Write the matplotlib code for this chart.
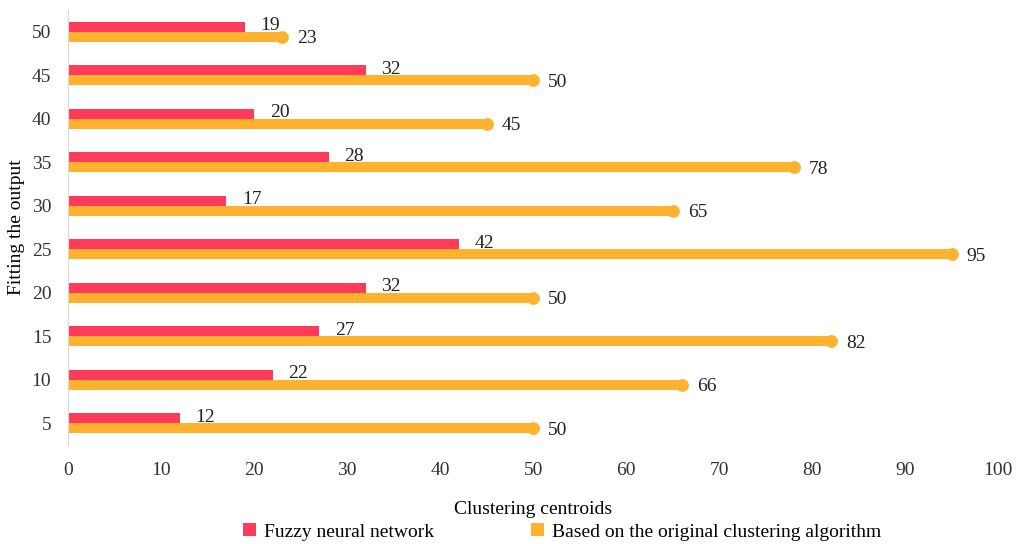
import matplotlib
matplotlib.use("Agg")
import matplotlib.pyplot as plt
import numpy as np

plt.rcParams['font.family'] = ['Liberation Serif', 'DejaVu Serif']

categories = ["5", "10", "15", "20", "25", "30", "35", "40", "45", "50"]
fuzzy = [12, 22, 27, 32, 42, 17, 28, 20, 32, 19]
original = [50, 66, 82, 50, 95, 65, 78, 45, 50, 23]
xticks = [0, 10, 20, 30, 40, 50, 60, 70, 80, 90, 100]

red = "#FF3B5C"
orange = "#FFB22E"
fs = 14

fig = plt.figure(figsize=(10.24, 5.44), dpi=100)
ax = fig.add_axes([0.0664, 0.182, 0.9086, 0.800])

y = np.arange(len(categories))
h = 0.23
off = 0.115
ax.barh(y + off, fuzzy, height=h, color=red, label="Fuzzy neural network", zorder=2)
ax.barh(y - off, original, height=h, color=orange,
        label="Based on the original clustering algorithm", zorder=2)
ax.scatter(original, y - off, s=85, color=orange, zorder=3, linewidths=0)

for yi, v in zip(y, fuzzy):
    ax.text(v + 1.7, yi + off + 0.02, str(v), fontsize=fs, va="center", ha="left",
            color="#222222")
for yi, v in zip(y, original):
    ax.text(v + 1.6, yi - off - 0.05, str(v), fontsize=fs, va="center", ha="left",
            color="#222222")

ax.set_xlim(0, 100)
ax.set_ylim(-0.5, 9.5)
ax.set_xticks(xticks)
ax.set_yticks(y)
ax.set_yticklabels(categories)
ax.tick_params(axis="both", length=0, labelsize=fs, colors="#333333")
ax.tick_params(axis="x", pad=12)
ax.tick_params(axis="y", pad=12)
for s in ["top", "right", "bottom"]:
    ax.spines[s].set_visible(False)
ax.spines["left"].set_color("#D9D9D9")
ax.set_xlabel("Clustering centroids", fontsize=fs, labelpad=16)
ax.set_ylabel("Fitting the output", fontsize=fs, labelpad=5)

fig.legend(loc="lower center", bbox_to_anchor=(0.549, -0.026), ncol=2,
           frameon=False, fontsize=fs, handlelength=0.65, handleheight=0.65,
           columnspacing=5.0, handletextpad=0.4)

fig.savefig("out.png", dpi=100)
